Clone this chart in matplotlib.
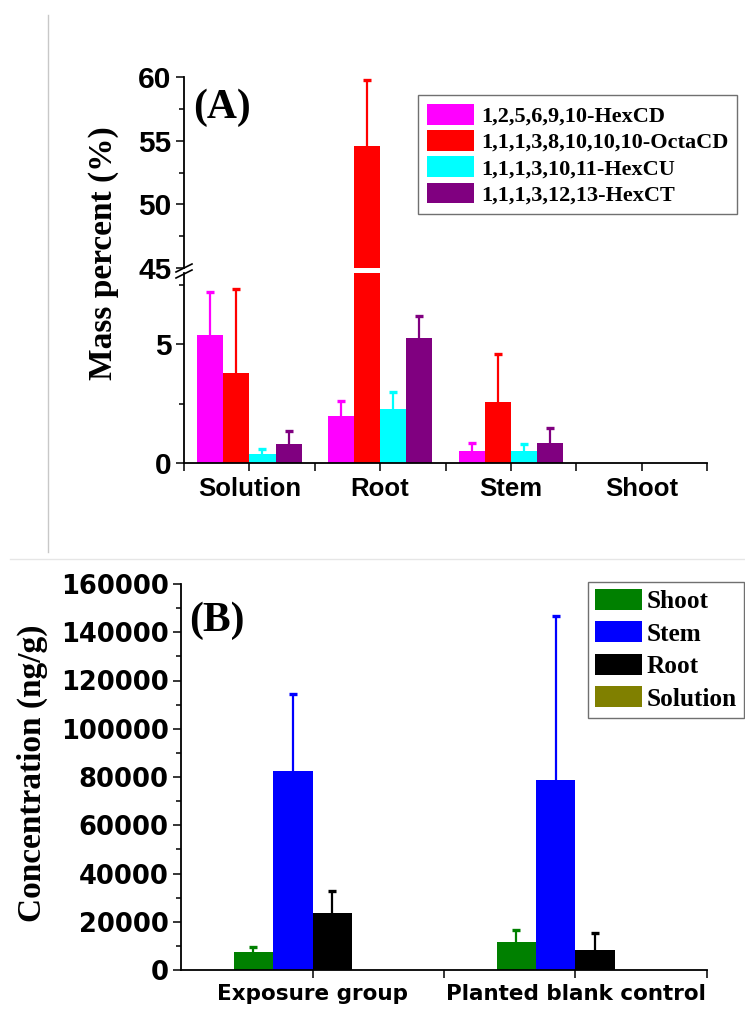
import matplotlib
matplotlib.use("Agg")
import matplotlib.pyplot as plt
import numpy as np
from matplotlib.lines import Line2D
from matplotlib.ticker import MultipleLocator, FixedLocator, FuncFormatter
from matplotlib.font_manager import FontProperties

# ---------------- data ----------------
categories_A = ["Solution", "Root", "Stem", "Shoot"]
series_A = ["1,2,5,6,9,10-HexCD", "1,1,1,3,8,10,10,10-OctaCD",
            "1,1,1,3,10,11-HexCU", "1,1,1,3,12,13-HexCT"]
hexcd = [5.38, 1.98, 0.51, 0.0]
hexcd_err = [1.82, 0.64, 0.32, 0.0]
octacd = [3.77, 54.57, 2.55, 0.0]
octacd_err = [3.55, 5.18, 2.04, 0.0]
hexcu = [0.40, 2.29, 0.51, 0.0]
hexcu_err = [0.18, 0.71, 0.30, 0.0]
hexct = [0.79, 5.27, 0.83, 0.0]
hexct_err = [0.55, 0.92, 0.63, 0.0]
colors_A = ["#FF00FF", "#FF0000", "#00FFFF", "#800080"]

categories_B = ["Exposure group", "Planted blank control"]
series_B = ["Shoot", "Stem", "Root", "Solution"]
shoot_B = [7500, 11600]
shoot_B_err = [2200, 5000]
stem_B = [82300, 78600]
stem_B_err = [32100, 68200]
root_B = [23500, 8400]
root_B_err = [9400, 7100]
solution_B = [0, 0]
solution_B_err = [0, 0]
colors_B = ["#008000", "#0000FF", "#000000", "#808000"]

# ---------------- figure ----------------
W, H = 745, 1009
fig = plt.figure(figsize=(W / 100, H / 100), dpi=100)


def fx(px):
    return px / W


def fy(py):
    return 1 - py / H


sans = "Liberation Sans"
wide = "DejaVu Sans"
serif = "Liberation Serif"
tick_kw = dict(direction="out", width=1.1, colors="black")


def up_errorbar(ax, pos, v, e, c):
    m = v > 0
    if not m.any():
        return
    cont = ax.errorbar(pos[m], v[m], yerr=[np.zeros(m.sum()), e[m]], fmt="none",
                       ecolor=c, elinewidth=1.6, capsize=3, capthick=2.4)
    for cap in cont[1]:
        if np.allclose(cap.get_ydata(), v[m]):
            cap.set_visible(False)


# ---------- Panel A ----------
axU = fig.add_axes([fx(184), fy(268), (707 - 184) / W, (268 - 77) / H])
axL = fig.add_axes([fx(184), fy(463), (707 - 184) / W, (463 - 273) / H])

xA = np.arange(1, len(categories_A) + 1)
wA = 0.2
valsA = [hexcd, octacd, hexcu, hexct]
errsA = [hexcd_err, octacd_err, hexcu_err, hexct_err]
handlesA = []
for i, (v, e, c, name) in enumerate(zip(valsA, errsA, colors_A, series_A)):
    v = np.array(v, float)
    e = np.array(e, float)
    pos = xA + (i - 1.5) * wA
    for ax in (axU, axL):
        b = ax.bar(pos, v, wA, color=c, linewidth=0, label=name)
        up_errorbar(ax, pos, v, e, c)
    handlesA.append(b)

for ax in (axU, axL):
    ax.set_xlim(0.5, 4.5)
    ax.spines["top"].set_visible(False)
    ax.spines["right"].set_visible(False)
    for s in ("left", "bottom"):
        ax.spines[s].set_linewidth(1.3)
    ax.tick_params(axis="y", which="major", length=6, labelsize=21.5, pad=3, **tick_kw)
    ax.tick_params(axis="y", which="minor", length=3.5, **tick_kw)

axU.set_ylim(45, 60)
axU.spines["bottom"].set_visible(False)
axU.tick_params(axis="x", which="both", bottom=False, labelbottom=False)
axU.yaxis.set_major_locator(MultipleLocator(5))
axU.yaxis.set_minor_locator(MultipleLocator(2.5))

axL.set_ylim(0, 8)
axL.yaxis.set_major_locator(MultipleLocator(5))
axL.yaxis.set_minor_locator(MultipleLocator(2.5))
axL.xaxis.set_major_locator(FixedLocator(xA))
axL.set_xticklabels(categories_A)
axL.xaxis.set_minor_locator(FixedLocator(np.arange(0.5, 4.6, 1.0)))
axL.tick_params(axis="x", which="both", length=6, labelsize=18.5, pad=4, **tick_kw)
for ax in (axU, axL):
    for lab in ax.get_yticklabels() + ax.get_xticklabels():
        lab.set_fontfamily(sans)
        lab.set_fontweight("bold")

# break marks
for dy in (0, 6):
    fig.add_artist(Line2D([fx(176), fx(192)], [fy(272 + dy), fy(264 + dy)],
                          color="black", lw=1.2))

fig.text(fx(104), fy(253), "Mass percent (%)", rotation=90, ha="center", va="center",
         fontsize=24, fontfamily=serif, fontweight="bold")
fig.text(fx(193), fy(108), "(A)", ha="left", va="center",
         fontsize=30, fontfamily=serif, fontweight="bold")

legA = fig.legend(handlesA, series_A, loc="upper left",
                  bbox_to_anchor=(fx(418), fy(95)), bbox_transform=fig.transFigure,
                  prop=FontProperties(family=serif, weight="bold", size=16),
                  frameon=True, fancybox=False, edgecolor="#707070", framealpha=1,
                  borderpad=0.4, labelspacing=0.15, handlelength=2.14,
                  handleheight=1.05, handletextpad=0.3, borderaxespad=0)
legA.get_frame().set_linewidth(1.0)

# ---------- Panel B ----------
axB = fig.add_axes([fx(181), fy(970), (707 - 181) / W, (970 - 584) / H])
xB = np.arange(1, len(categories_B) + 1)
wB = 0.15
valsB = [shoot_B, stem_B, root_B, solution_B]
errsB = [shoot_B_err, stem_B_err, root_B_err, solution_B_err]
handlesB = []
for i, (v, e, c, name) in enumerate(zip(valsB, errsB, colors_B, series_B)):
    v = np.array(v, float)
    e = np.array(e, float)
    pos = xB + (i - 1.5) * wB
    b = axB.bar(pos, v, wB, color=c, linewidth=0, label=name)
    up_errorbar(axB, pos, v, e, c)
    handlesB.append(b)

axB.set_xlim(0.5, 2.5)
axB.set_ylim(0, 160000)
axB.spines["top"].set_visible(False)
axB.spines["right"].set_visible(False)
for s in ("left", "bottom"):
    axB.spines[s].set_linewidth(1.3)
axB.yaxis.set_major_locator(MultipleLocator(20000))
axB.yaxis.set_minor_locator(MultipleLocator(10000))
axB.yaxis.set_major_formatter(FuncFormatter(lambda v, p: "%d" % v))
axB.xaxis.set_major_locator(FixedLocator(xB))
axB.set_xticklabels(categories_B)
axB.xaxis.set_minor_locator(FixedLocator([1.5, 2.5]))
axB.tick_params(axis="y", which="major", length=6, labelsize=18.5, pad=3, **tick_kw)
axB.tick_params(axis="y", which="minor", length=3.5, **tick_kw)
axB.tick_params(axis="x", which="both", length=6, labelsize=15.5, pad=4, **tick_kw)
for lab in axB.get_yticklabels() + axB.get_xticklabels():
    lab.set_fontfamily(wide)
    lab.set_fontweight("bold")

fig.text(fx(32), fy(773), "Concentration (ng/g)", rotation=90, ha="center", va="center",
         fontsize=24, fontfamily=serif, fontweight="bold")
fig.text(fx(189), fy(621), "(B)", ha="left", va="center",
         fontsize=30, fontfamily=serif, fontweight="bold")

legB = fig.legend(handlesB, series_B, loc="upper left",
                  bbox_to_anchor=(fx(588), fy(582)), bbox_transform=fig.transFigure,
                  prop=FontProperties(family=serif, weight="bold", size=18.2),
                  frameon=True, fancybox=False, edgecolor="#707070", framealpha=1,
                  borderpad=0.27, labelspacing=0.33, handlelength=1.85,
                  handleheight=0.9, handletextpad=0.2, borderaxespad=0)
legB.get_frame().set_linewidth(1.0)

# separator lines of the composed figure
fig.add_artist(Line2D([fx(48), fx(48)], [fy(15), fy(552)], color="#c8c8c8", lw=1))
fig.add_artist(Line2D([fx(10), fx(745)], [fy(559), fy(559)], color="#e6e6e6", lw=1))

fig.savefig("out.png", dpi=100)
